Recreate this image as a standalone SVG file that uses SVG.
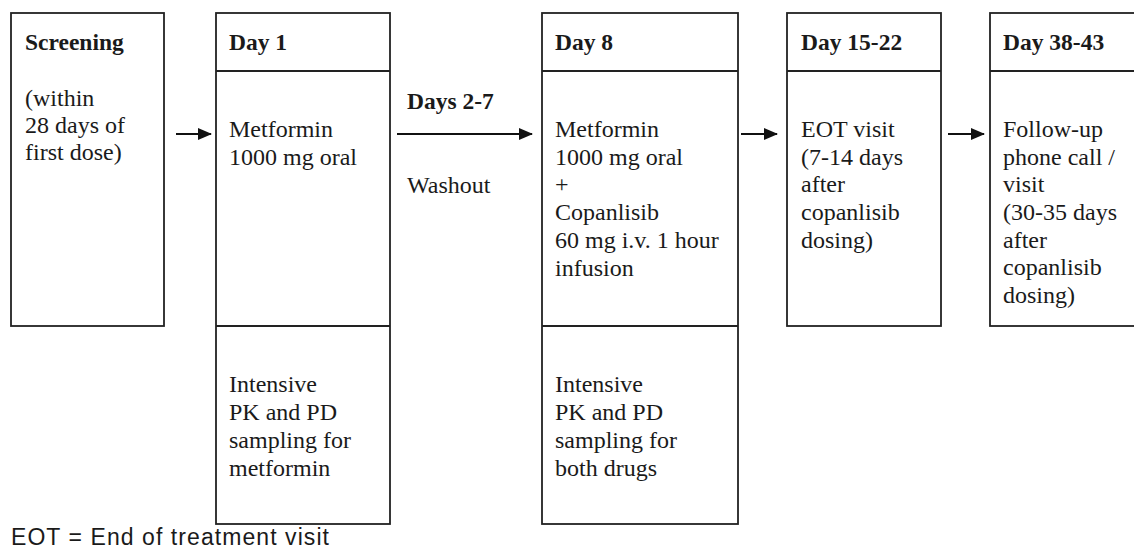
<svg xmlns="http://www.w3.org/2000/svg" width="1134" height="549" viewBox="0 0 1134 549">
<style>
.box{fill:none;stroke:#222;stroke-width:1.8}
.t{font-family:"Liberation Serif","Times New Roman",serif;font-size:24px;fill:#1a1a1a}
.h{font-family:"Liberation Serif","Times New Roman",serif;font-size:23.5px;font-weight:bold;fill:#1a1a1a}
.s{font-family:"Liberation Sans",Arial,sans-serif;font-size:23px;fill:#1a1a1a}
.c{stroke:#111;stroke-width:1.8;fill:none;marker-end:url(#ah)}
</style>
<defs>
<marker id="ah" markerUnits="userSpaceOnUse" markerWidth="14" markerHeight="12" refX="13" refY="6" orient="auto">
<path d="M0,0 L14,6 L0,12 z" fill="#111"/>
</marker>
</defs>
<rect width="1134" height="549" fill="#fff"/>
<g id="screening">
<rect class="box" x="11" y="13" width="153" height="313"/>
<text class="h" x="25" y="50">Screening</text>
<text class="t" x="25" y="106">(within</text>
<text class="t" x="25" y="133">28 days of</text>
<text class="t" x="25" y="160">first dose)</text>
</g>
<g id="day1">
<rect class="box" x="216" y="13" width="174" height="511"/>
<line class="box" x1="216" y1="71" x2="390" y2="71"/>
<line class="box" x1="216" y1="326" x2="390" y2="326"/>
<text class="h" x="229" y="50">Day 1</text>
<text class="t" x="229" y="137">Metformin</text>
<text class="t" x="229" y="165">1000 mg oral</text>
<text class="t" x="229" y="392">Intensive</text>
<text class="t" x="229" y="420">PK and PD</text>
<text class="t" x="229" y="448">sampling for</text>
<text class="t" x="229" y="476">metformin</text>
</g>
<g id="days2-7">
<text class="h" x="407" y="109">Days 2-7</text>
<text class="t" x="407" y="193">Washout</text>
</g>
<g id="day8">
<rect class="box" x="542" y="13" width="196" height="511"/>
<line class="box" x1="542" y1="71" x2="738" y2="71"/>
<line class="box" x1="542" y1="326" x2="738" y2="326"/>
<text class="h" x="555" y="50">Day 8</text>
<text class="t" x="555" y="137">Metformin</text>
<text class="t" x="555" y="165">1000 mg oral</text>
<text class="t" x="555" y="192">+</text>
<text class="t" x="555" y="220">Copanlisib</text>
<text class="t" x="555" y="248">60 mg i.v. 1 hour</text>
<text class="t" x="555" y="276">infusion</text>
<text class="t" x="555" y="392">Intensive</text>
<text class="t" x="555" y="420">PK and PD</text>
<text class="t" x="555" y="448">sampling for</text>
<text class="t" x="555" y="476">both drugs</text>
</g>
<g id="day15-22">
<rect class="box" x="787" y="13" width="154" height="313"/>
<line class="box" x1="787" y1="71" x2="941" y2="71"/>
<text class="h" x="801" y="50">Day 15-22</text>
<text class="t" x="801" y="137">EOT visit</text>
<text class="t" x="801" y="165">(7-14 days</text>
<text class="t" x="801" y="192">after</text>
<text class="t" x="801" y="220">copanlisib</text>
<text class="t" x="801" y="248">dosing)</text>
</g>
<g id="day38-43">
<rect class="box" x="990" y="13" width="160" height="313"/>
<line class="box" x1="990" y1="71" x2="1134" y2="71"/>
<text class="h" x="1003" y="50">Day 38-43</text>
<text class="t" x="1003" y="137">Follow-up</text>
<text class="t" x="1003" y="165">phone call /</text>
<text class="t" x="1003" y="192">visit</text>
<text class="t" x="1003" y="220">(30-35 days</text>
<text class="t" x="1003" y="248">after</text>
<text class="t" x="1003" y="275">copanlisib</text>
<text class="t" x="1003" y="303">dosing)</text>
</g>
<g id="connectors">
<line class="c" x1="176" y1="134" x2="211" y2="134"/>
<line class="c" x1="397" y1="134" x2="532" y2="134"/>
<line class="c" x1="741" y1="134" x2="777" y2="134"/>
<line class="c" x1="948" y1="134" x2="984" y2="134"/>
</g>
<g id="legend">
<text class="s" x="11" y="545" textLength="318" lengthAdjust="spacing">EOT = End of treatment visit</text>
</g>
</svg>
